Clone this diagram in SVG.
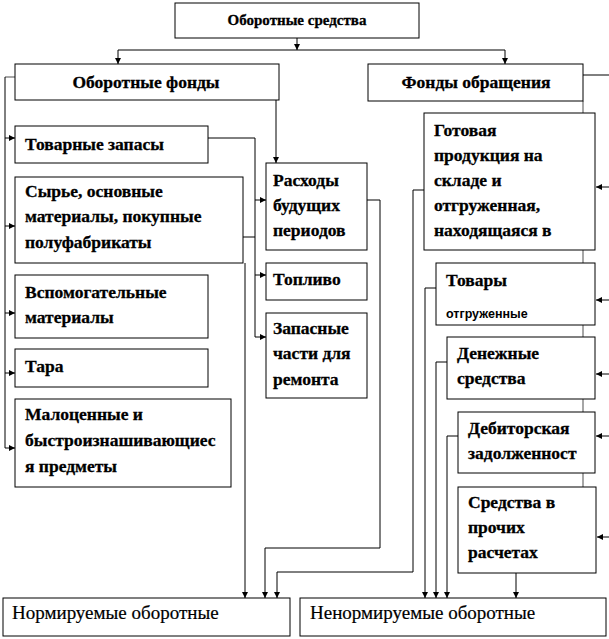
<svg xmlns="http://www.w3.org/2000/svg" width="609" height="639" viewBox="0 0 609 639">
<defs>
<marker id="ah" viewBox="0 0 6 6" refX="6" refY="3" markerWidth="6" markerHeight="6" markerUnits="userSpaceOnUse" orient="auto"><path d="M0,0 L6,3 L0,6 z" fill="#000"/></marker>
</defs>
<style>
.box{fill:#fff;stroke:#000;stroke-width:1}
.t{font-family:"Liberation Serif","Times New Roman",serif;font-weight:bold;font-size:17.5px;fill:#000;stroke:#000;stroke-width:0.3}
.s{font-size:15px}
.n{font-weight:normal;font-size:19px;stroke-width:0.2}
.sm{font-family:"Liberation Sans",Arial,sans-serif;font-weight:bold;font-size:12.5px;fill:#000}
.c{fill:none;stroke:#000;stroke-width:1}
.a{fill:none;stroke:#000;stroke-width:1;marker-end:url(#ah)}
.g{fill:none;stroke:#888;stroke-width:1.5}
</style>
<g id="connectors">
<path class="a" d="M297,38 V50"/>
<path class="c" d="M118,50 H505"/>
<path class="a" d="M118,50 V64"/>
<path class="a" d="M505,50 V64"/>
<path class="g" d="M15,77 H5"/>
<path class="c" d="M5,77 V448"/>
<path class="a" d="M5,138 H15"/>
<path class="a" d="M5,226 H15"/>
<path class="a" d="M5,313 H15"/>
<path class="a" d="M5,373 H15"/>
<path class="a" d="M5,448 H15"/>
<path class="c" d="M583,75 H609"/>
<path class="g" d="M583,101 V537"/>
<path class="a" d="M609,187 H596"/>
<path class="a" d="M609,300 H596"/>
<path class="a" d="M609,374 H596"/>
<path class="a" d="M609,436 H596"/>
<path class="a" d="M609,537 H597"/>
<path class="a" d="M276,100 V163"/>
<path class="c" d="M208,138 H255 V337"/>
<path class="c" d="M243,237 H255"/>
<path class="a" d="M255,200 H266"/>
<path class="a" d="M255,275 H266"/>
<path class="a" d="M255,337 H266"/>
<path class="a" d="M245,263 V598"/>
<path class="a" d="M367,200 H380 V548 H265 V598"/>
<path class="a" d="M424,190 H413 V572 H277 V598"/>
<path class="a" d="M436,288 H425 V598"/>
<path class="a" d="M447,362 H436 V598"/>
<path class="a" d="M458,436 H447 V598"/>
<path class="a" d="M516,573 V598"/>
</g>
<g id="n-oborotnye-sredstva"><rect class="box" x="175" y="3" width="244" height="35"/><text class="t s" x="297" y="25" text-anchor="middle">Оборотные средства</text></g>
<g id="n-oborotnye-fondy"><rect class="box" x="15" y="64" width="264" height="36"/><text class="t" x="146" y="88" text-anchor="middle">Оборотные фонды</text></g>
<g id="n-fondy-obrashcheniya"><rect class="box" x="368" y="64" width="215" height="37"/><text class="t" x="476" y="88" text-anchor="middle">Фонды обращения</text></g>
<g id="n-tovarnye-zapasy"><rect class="box" x="15" y="126" width="193" height="37"/><text class="t" x="25" y="150">Товарные запасы</text></g>
<g id="n-syrye"><rect class="box" x="15" y="177" width="228" height="86"/><text class="t" x="25" y="197">Сырье, основные</text><text class="t" x="25" y="222">материалы, покупные</text><text class="t" x="25" y="248">полуфабрикаты</text></g>
<g id="n-vspomogatelnye"><rect class="box" x="15" y="275" width="193" height="63"/><text class="t" x="25" y="298">Вспомогательные</text><text class="t" x="25" y="323">материалы</text></g>
<g id="n-tara"><rect class="box" x="15" y="349" width="193" height="38"/><text class="t" x="25" y="372">Тара</text></g>
<g id="n-malocennye"><rect class="box" x="15" y="399" width="216" height="88"/><text class="t" x="25" y="420">Малоценные и</text><text class="t" x="25" y="446">быстроизнашивающиес</text><text class="t" x="25" y="472">я предметы</text></g>
<g id="n-raskhody"><rect class="box" x="266" y="163" width="101" height="87"/><text class="t" x="273" y="186">Расходы</text><text class="t" x="273" y="211">будущих</text><text class="t" x="273" y="236">периодов</text></g>
<g id="n-toplivo"><rect class="box" x="266" y="263" width="101" height="37"/><text class="t" x="273" y="285">Топливо</text></g>
<g id="n-zapasnye"><rect class="box" x="266" y="313" width="101" height="85"/><text class="t" x="273" y="334">Запасные</text><text class="t" x="273" y="359">части для</text><text class="t" x="273" y="385">ремонта</text></g>
<g id="n-gotovaya"><rect class="box" x="424" y="113" width="171" height="137"/><text class="t" x="434" y="136">Готовая</text><text class="t" x="434" y="161">продукция на</text><text class="t" x="434" y="186">складе и</text><text class="t" x="434" y="211">отгруженная,</text><text class="t" x="434" y="236">находящаяся в</text></g>
<g id="n-tovary"><rect class="box" x="436" y="263" width="159" height="62"/><text class="t" x="446" y="286">Товары</text><text class="sm" x="446" y="318">отгруженные</text></g>
<g id="n-denezhnye"><rect class="box" x="447" y="337" width="148" height="62"/><text class="t" x="457" y="359">Денежные</text><text class="t" x="457" y="384">средства</text></g>
<g id="n-debitorskaya"><rect class="box" x="458" y="412" width="137" height="61"/><text class="t" x="468" y="434">Дебиторская</text><text class="t" x="468" y="459">задолженност</text></g>
<g id="n-sredstva"><rect class="box" x="458" y="487" width="138" height="86"/><text class="t" x="468" y="508">Средства в</text><text class="t" x="468" y="533">прочих</text><text class="t" x="468" y="558">расчетах</text></g>
<g id="n-normiruemye"><rect class="box" x="3" y="598" width="287" height="38"/><text class="t n" x="12" y="619">Нормируемые оборотные</text></g>
<g id="n-nenormiruemye"><rect class="box" x="300" y="598" width="306" height="38"/><text class="t n" x="310" y="619">Ненормируемые оборотные</text></g>
</svg>
